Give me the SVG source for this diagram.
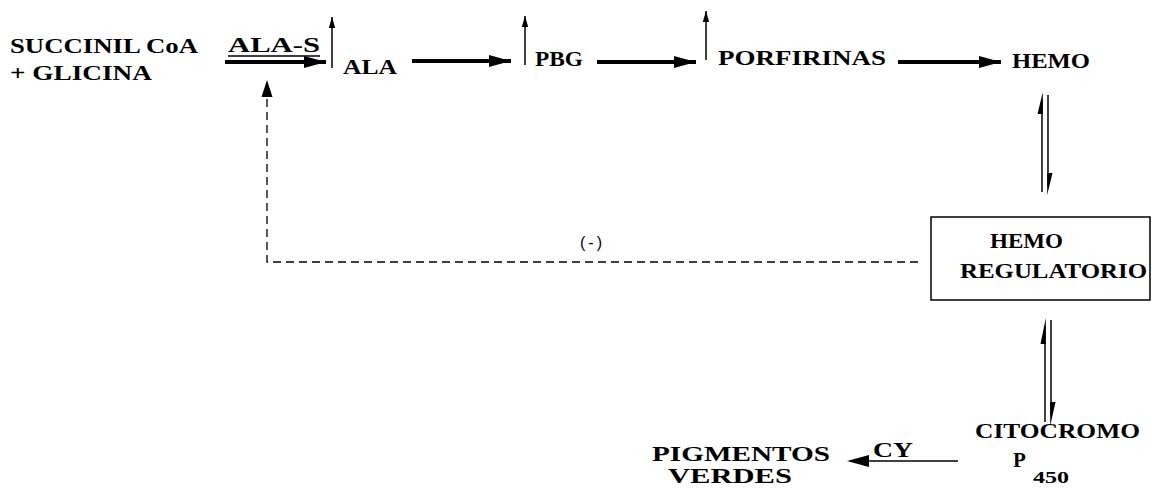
<svg xmlns="http://www.w3.org/2000/svg" width="1153" height="488" viewBox="0 0 1153 488">
  <style>
    .t { font-family: "Liberation Serif", "DejaVu Serif", serif; font-weight: bold; font-size: 21px; fill: #000; }
    .sub { font-family: "Liberation Serif", "DejaVu Serif", serif; font-weight: bold; font-size: 17px; fill: #000; }
    .sign { font-family: "Liberation Sans", "DejaVu Sans", sans-serif; font-size: 16px; fill: #000; letter-spacing: 3px; }
    .main { stroke: #000; stroke-width: 3.8; fill: none; marker-end: url(#bigHead); }
    .thin { stroke: #000; stroke-width: 1.5; fill: none; marker-end: url(#smallHead); }
    .rev { stroke: #000; stroke-width: 1.5; fill: none; }
    .dash { stroke: #000; stroke-width: 1.3; fill: none; stroke-dasharray: 8 5; }
    .head { fill: #000; stroke: none; }
  </style>
  <defs>
    <marker id="bigHead" markerUnits="userSpaceOnUse" markerWidth="24" markerHeight="14" refX="22" refY="7" orient="auto">
      <path d="M0,1 L22,7 L0,13 Z" fill="#000"/>
    </marker>
    <marker id="smallHead" markerUnits="userSpaceOnUse" markerWidth="12" markerHeight="8" refX="11" refY="4" orient="auto">
      <path d="M0,0.8 L11,4 L0,7.2 Z" fill="#000"/>
    </marker>
  </defs>

  <rect width="1153" height="488" fill="#fff"/>

  <!-- connectors -->
  <g id="connectors">
    <!-- main pathway -->
    <line class="main" x1="225" y1="62" x2="326" y2="62"/>
    <line class="main" x1="412" y1="61" x2="511" y2="61"/>
    <line class="main" x1="597" y1="62" x2="696" y2="62"/>
    <line class="main" x1="898" y1="62" x2="1001" y2="62"/>
    <!-- small upward arrows -->
    <line class="thin" x1="332" y1="68" x2="332" y2="17"/>
    <line class="thin" x1="525" y1="65" x2="525" y2="16"/>
    <line class="thin" x1="706" y1="60" x2="706" y2="11"/>
    <!-- HEMO <-> HEMO REGULATORIO -->
    <line class="rev" x1="1042" y1="100" x2="1042" y2="192"/>
    <path class="head" d="M1042.8,92 L1042.8,114 L1037.5,114 Z"/>
    <line class="rev" x1="1048" y1="95" x2="1048" y2="186"/>
    <path class="head" d="M1047.2,195 L1047.2,173 L1052.5,173 Z"/>
    <!-- HEMO REGULATORIO <-> CITOCROMO -->
    <line class="rev" x1="1045" y1="326" x2="1045" y2="422"/>
    <path class="head" d="M1045.8,318 L1045.8,344 L1040.5,344 Z"/>
    <line class="rev" x1="1051" y1="320" x2="1051" y2="416"/>
    <path class="head" d="M1050.2,426 L1050.2,402 L1055.5,402 Z"/>
    <!-- negative feedback -->
    <path class="dash" d="M918,262 L267,262 L267,97"/>
    <path class="head" d="M267,80 L272.5,97 L261.5,97 Z"/>
    <!-- CY degradation -->
    <line stroke="#000" stroke-width="1.5" x1="958" y1="461" x2="866" y2="461"/>
    <path class="head" d="M847,461 L869,455 L869,467 Z"/>
  </g>

  <g id="substrates">
    <text class="t" x="10" y="53" textLength="188" lengthAdjust="spacingAndGlyphs">SUCCINIL CoA</text>
    <text class="t" x="10" y="80" textLength="142" lengthAdjust="spacingAndGlyphs">+ GLICINA</text>
  </g>
  <g id="ala-s">
    <text class="t" x="228" y="52" textLength="92" lengthAdjust="spacingAndGlyphs">ALA-S</text>
    <line stroke="#000" stroke-width="1.5" x1="228" y1="56" x2="320" y2="56"/>
  </g>
  <g id="ala">
    <text class="t" x="343" y="74" textLength="54" lengthAdjust="spacingAndGlyphs">ALA</text>
  </g>
  <g id="pbg">
    <text class="t" x="535" y="66" textLength="48" lengthAdjust="spacingAndGlyphs">PBG</text>
  </g>
  <g id="porfirinas">
    <text class="t" x="718" y="65" textLength="168" lengthAdjust="spacingAndGlyphs">PORFIRINAS</text>
  </g>
  <g id="hemo">
    <text class="t" x="1012" y="68" textLength="78" lengthAdjust="spacingAndGlyphs">HEMO</text>
  </g>
  <g id="hemo-regulatorio">
    <rect x="931" y="217" width="219" height="83" fill="none" stroke="#000" stroke-width="1.5"/>
    <text class="t" x="990" y="248" textLength="73" lengthAdjust="spacingAndGlyphs">HEMO</text>
    <text class="t" x="960" y="278" textLength="187" lengthAdjust="spacingAndGlyphs">REGULATORIO</text>
  </g>
  <g id="feedback-sign">
    <text class="sign" x="580" y="248">(-)</text>
  </g>
  <g id="citocromo">
    <text class="t" x="975" y="438" textLength="165" lengthAdjust="spacingAndGlyphs">CITOCROMO</text>
    <text class="t" x="1013" y="467">P</text>
    <text class="sub" x="1033" y="483" textLength="36" lengthAdjust="spacingAndGlyphs">450</text>
  </g>
  <g id="cy">
    <text class="t" x="873" y="457" textLength="40" lengthAdjust="spacingAndGlyphs">CY</text>
  </g>
  <g id="pigmentos">
    <text class="t" x="652" y="461" textLength="178" lengthAdjust="spacingAndGlyphs">PIGMENTOS</text>
    <text class="t" x="668" y="483" textLength="124" lengthAdjust="spacingAndGlyphs">VERDES</text>
  </g>
</svg>
